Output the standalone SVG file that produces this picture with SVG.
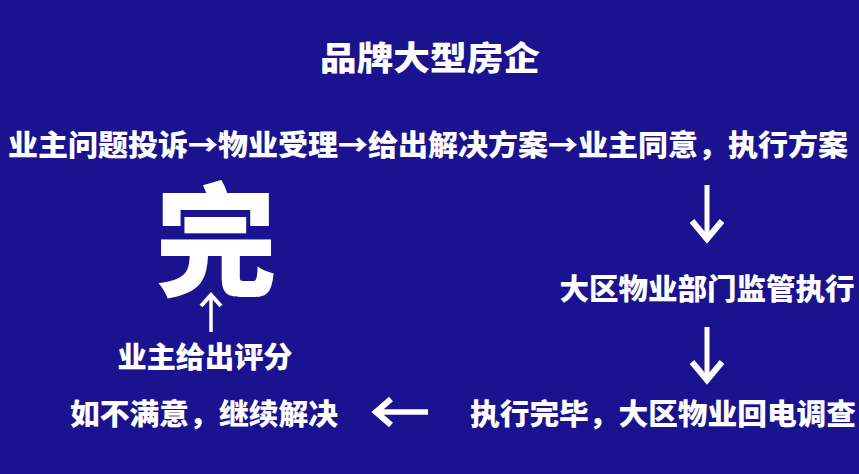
<svg xmlns="http://www.w3.org/2000/svg" width="859" height="474" viewBox="0 0 859 474">
<style>
.t{font-family:"Noto Sans CJK SC","Noto Sans CJK JP",sans-serif;font-weight:900;fill:#ffffff;dominant-baseline:central;text-anchor:middle}
.c{stroke:#ffffff;fill:none;stroke-linecap:butt;stroke-linejoin:miter}
</style>
<rect width="859" height="474" fill="#1b1290"/>
<g id="title"><text class="t" x="430" y="56" font-size="33" textLength="220" lengthAdjust="spacingAndGlyphs">品牌大型房企</text></g>
<g id="process"><text class="t" x="428" y="143" font-size="29" textLength="840" lengthAdjust="spacingAndGlyphs">业主问题投诉→物业受理→给出解决方案→业主同意，执行方案</text></g>
<g id="supervise"><text class="t" x="707" y="287" font-size="29" textLength="295" lengthAdjust="spacingAndGlyphs">大区物业部门监管执行</text></g>
<g id="callback"><text class="t" x="663" y="412" font-size="29" textLength="386" lengthAdjust="spacingAndGlyphs">执行完毕，大区物业回电调查</text></g>
<g id="unsatisfied"><text class="t" x="204" y="412" font-size="29" textLength="268" lengthAdjust="spacingAndGlyphs">如不满意，继续解决</text></g>
<g id="rating"><text class="t" x="205" y="355" font-size="29" textLength="175" lengthAdjust="spacingAndGlyphs">业主给出评分</text></g>
<g id="done"><text class="t" x="216" y="232" font-size="122" font-weight="bold">完</text></g>
<g id="connectors">
<line class="c" x1="707" y1="185" x2="707" y2="239" stroke-width="5"/>
<polyline class="c" points="692,221 707,239 722,221" stroke-width="6"/>
<line class="c" x1="707" y1="327" x2="707" y2="380" stroke-width="5"/>
<polyline class="c" points="692,362 707,380 722,362" stroke-width="6"/>
<line class="c" x1="428" y1="412" x2="376" y2="412" stroke-width="5.5"/>
<polyline class="c" points="391,399 376,412 391,425" stroke-width="6"/>
<line class="c" x1="211" y1="332" x2="211" y2="295" stroke-width="3.5"/>
<polyline class="c" points="201,306 211,295 221,306" stroke-width="4"/>
</g>
</svg>
